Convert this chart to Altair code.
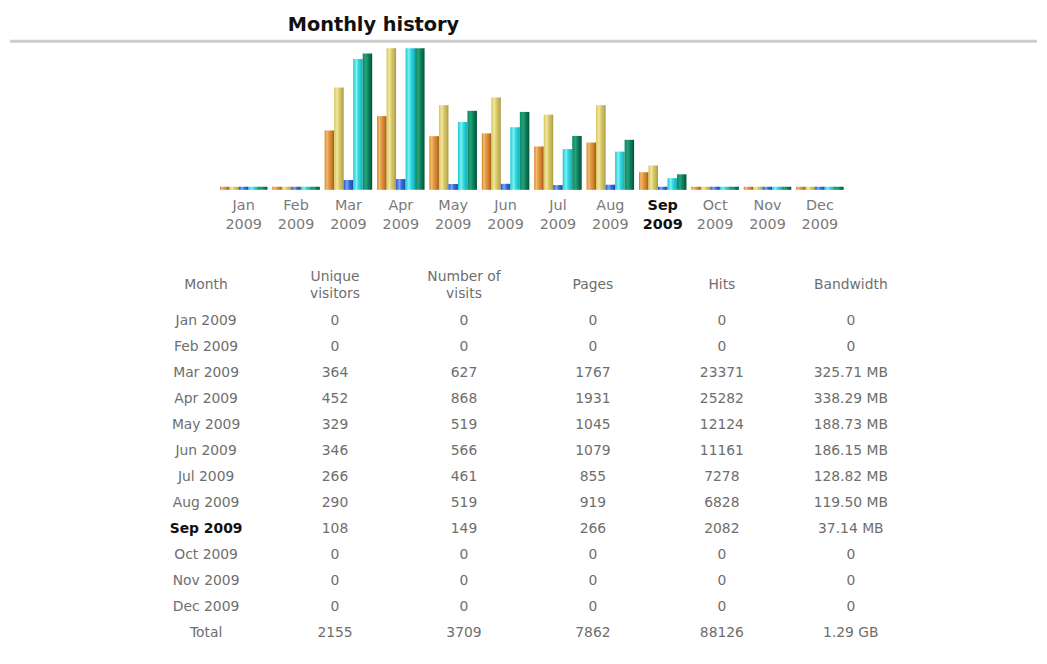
import altair as alt
import pandas as pd

# ---------------- data ----------------
months = ["Jan", "Feb", "Mar", "Apr", "May", "Jun", "Jul", "Aug", "Sep", "Oct", "Nov", "Dec"]
year = "2009"
current_month = "Sep"
unique_visitors = [0, 0, 364, 452, 329, 346, 266, 290, 108, 0, 0, 0]
visits = [0, 0, 627, 868, 519, 566, 461, 519, 149, 0, 0, 0]
pages = [0, 0, 1767, 1931, 1045, 1079, 855, 919, 266, 0, 0, 0]
hits = [0, 0, 23371, 25282, 12124, 11161, 7278, 6828, 2082, 0, 0, 0]
bandwidth_mb = [0, 0, 325.71, 338.29, 188.73, 186.15, 128.82, 119.50, 37.14, 0, 0, 0]
total_labels = ["2155", "3709", "7862", "88126", "1.29 GB"]
series = ["Unique visitors", "Number of visits", "Pages", "Hits", "Bandwidth"]
columns = ["Month", "Unique visitors", "Number of visits", "Pages", "Hits", "Bandwidth"]
headers = ["Month", "Unique\nvisitors", "Number of\nvisits", "Pages", "Hits", "Bandwidth"]
title = "Monthly history"

# ---------------- bar table ----------------
max_v = max(max(unique_visitors), max(visits))
max_h = max(max(pages), max(hits))
max_k = max(bandwidth_mb)
min_frac = 0.022
rows = []
for i, m in enumerate(months):
    for s, v, mx in zip(series,
                        [unique_visitors[i], visits[i], pages[i], hits[i], bandwidth_mb[i]],
                        [max_v, max_v, max_h, max_h, max_k]):
        rows.append({"month": m, "series": s, "value": v, "h": max(v / mx, min_frac)})
bars_df = pd.DataFrame(rows)


def grad(stops):
    return alt.Gradient(gradient="linear", x1=0, x2=1, y1=0, y2=0,
                        stops=[alt.GradientStop(offset=o, color=c) for o, c in stops])


gradients = {
    "Unique visitors": grad([(0, "#d57e1a"), (0.22, "#f4bb70"), (0.45, "#e29a45"), (0.75, "#cc7d28"), (1, "#9c5813")]),
    "Number of visits": grad([(0, "#d6c455"), (0.3, "#f1e7a2"), (0.5, "#dccc6a"), (0.8, "#c2b25a"), (1, "#a89745")]),
    "Pages": grad([(0, "#1f56cf"), (0.35, "#7ea9f4"), (0.55, "#3b72e0"), (1, "#1646ac")]),
    "Hits": grad([(0, "#1cc8d2"), (0.35, "#80f2f2"), (0.55, "#34d9e0"), (1, "#12aebd")]),
    "Bandwidth": grad([(0, "#0f8a60"), (0.35, "#24a27a"), (0.6, "#0f8060"), (1, "#005436")]),
}

xscale = alt.Scale(domain=months, range=[211.5, 846.2], paddingInner=0.093, paddingOuter=0.0465)
yscale = alt.Scale(domain=[0, 1], range=[180.5, 37.5])
offscale = alt.Scale(domain=series, paddingInner=0, paddingOuter=0)

bar_layers = []
for s in series:
    bar_layers.append(
        alt.Chart(bars_df).transform_filter(alt.datum.series == s)
        .mark_bar(color=gradients[s])
        .encode(
            x=alt.X("month:N", scale=xscale, axis=None),
            xOffset=alt.XOffset("series:N", scale=offscale),
            y=alt.Y("h:Q", scale=yscale, axis=None),
        )
    )

lab_df = pd.DataFrame({"month": months, "year": [year] * len(months)})
label_font = "DejaVu Sans"
lab_normal = alt.Chart(lab_df).transform_filter(alt.datum.month != current_month)
lab_cur = alt.Chart(lab_df).transform_filter(alt.datum.month == current_month)
label_layers = []
for base, weight, color in [(lab_normal, "normal", "#7a7a7a"), (lab_cur, "bold", "#111111")]:
    for field, yv in [("month", 197), ("year", 216)]:
        label_layers.append(
            base.mark_text(font=label_font, fontSize=14.5, fontWeight=weight, color=color, baseline="middle")
            .encode(x=alt.X("month:N", scale=xscale, axis=None, bandPosition=0.5),
                    y=alt.value(yv), text=f"{field}:N")
        )

title_layer = alt.Chart(pd.DataFrame({"t": [title]})).mark_text(
    font="DejaVu Sans", fontSize=19.5, fontWeight="bold", color="#111111", baseline="middle"
).encode(x=alt.value(369), y=alt.value(14), text="t:N")

rule_layer = alt.Chart(pd.DataFrame({"a": [0]})).mark_rule(color="#cdcdcd", strokeWidth=3).encode(
    x=alt.value(2), x2=alt.value(1039), y=alt.value(30.5)
)

top = alt.layer(title_layer, rule_layer, *bar_layers, *label_layers).properties(width=1036, height=230)

# ---------------- numeric table ----------------
def fmt_bw(v):
    return "0" if v == 0 else f"{v:.2f} MB"

row_labels = [f"{m} {year}" for m in months] + ["Total"]
cells = []
for i, m in enumerate(months):
    vals = [f"{m} {year}", str(unique_visitors[i]), str(visits[i]), str(pages[i]), str(hits[i]), fmt_bw(bandwidth_mb[i])]
    for c, v in zip(columns, vals):
        cells.append({"row": f"{m} {year}", "col": c, "val": v,
                      "bold": (m == current_month and c == "Month")})
for c, v in zip(columns, ["Total"] + total_labels):
    cells.append({"row": "Total", "col": c, "val": v, "bold": False})
cells_df = pd.DataFrame(cells)

hdr_df = pd.DataFrame({"col": columns, "val": headers})
hdr_df["two"] = hdr_df["val"].str.contains("\n")

tx = alt.Scale(type="point", domain=columns, range=[200, 851], padding=0)
ty = alt.Scale(type="point", domain=row_labels, range=[83, 398], padding=0)

txt = dict(font="DejaVu Sans", fontSize=14, color="#6e6e6e", baseline="middle")

hdr1 = alt.Chart(hdr_df).transform_filter("!datum.two").mark_text(**txt).encode(
    x=alt.X("col:N", scale=tx, axis=None), y=alt.value(47), text="val:N")
hdr2 = alt.Chart(hdr_df).transform_filter("datum.two").mark_text(lineBreak="\n", lineHeight=17, **txt).encode(
    x=alt.X("col:N", scale=tx, axis=None), y=alt.value(39), text="val:N")

body = alt.Chart(cells_df).transform_filter("!datum.bold").mark_text(**txt).encode(
    x=alt.X("col:N", scale=tx, axis=None), y=alt.Y("row:N", scale=ty, axis=None), text="val:N")

body_b = alt.Chart(cells_df).transform_filter("datum.bold").mark_text(
    font="DejaVu Sans", fontSize=14, fontWeight="bold", color="#111111", baseline="middle"
).encode(x=alt.X("col:N", scale=tx, axis=None), y=alt.Y("row:N", scale=ty, axis=None), text="val:N")

table = alt.layer(hdr1, hdr2, body, body_b).properties(width=1036, height=412)

chart = (
    alt.vconcat(top, table, spacing=0)
    .resolve_scale(x="independent", y="independent")
    .properties(padding=0)
    .configure_view(stroke=None)
)

chart.save("out.html", embed_options={"renderer": "svg", "actions": False})
